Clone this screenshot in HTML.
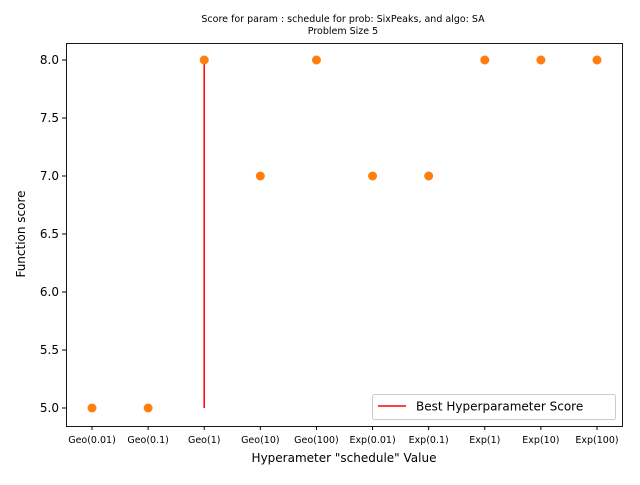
<!DOCTYPE html>
<html><head><meta charset="utf-8"><style>
body{margin:0;background:#fff;font-family:"Liberation Sans","DejaVu Sans",sans-serif;}
</style></head><body>
<svg id="c" width="640" height="480" xmlns="http://www.w3.org/2000/svg" style="font-family:'DejaVu Sans','Liberation Sans',sans-serif">
<text x="343" y="22" font-size="9.5" text-anchor="middle">Score for param : schedule for prob: SixPeaks, and algo: SA</text>
<text x="343" y="34" font-size="9.5" text-anchor="middle">Problem Size 5</text>
<g id="ax"></g>
<text x="344" y="462" font-size="12" text-anchor="middle">Hyperameter "schedule" Value</text>
<text transform="translate(25,234) rotate(-90)" font-size="12" text-anchor="middle">Function score</text>
<g>
<rect x="372.5" y="394.5" width="243" height="25" rx="2" fill="#fff" stroke="#ccc"/>
<line x1="378" y1="406" x2="406" y2="406" stroke="red" stroke-width="1.5"/>
<text x="416" y="410.5" font-size="12">Best Hyperparameter Score</text>
</g>
</svg>
<script>
const categories=["Geo(0.01)","Geo(0.1)","Geo(1)","Geo(10)","Geo(100)","Exp(0.01)","Exp(0.1)","Exp(1)","Exp(10)","Exp(100)"];
const scores=[5,5,8,7,8,7,7,8,8,8];
const yTicks=[5.0,5.5,6.0,6.5,7.0,7.5,8.0];
const bestIndex=2;
const L=66,R=622,T=43,B=426;
const xs=i=>92+i*(597-92)/(categories.length-1);
const ys=v=>408-(v-5)*116;
const g=document.getElementById('ax');
const NS="http://www.w3.org/2000/svg";
function mk(t,a){const e=document.createElementNS(NS,t);for(const k in a)e.setAttribute(k,a[k]);g.appendChild(e);return e;}
yTicks.forEach(v=>{
 mk('line',{x1:L-4,x2:L,y1:ys(v),y2:ys(v),stroke:'#000'});
 const t=mk('text',{x:L-7,y:ys(v)+4,'font-size':12,'text-anchor':'end'});t.textContent=v.toFixed(1);
 
 
});
categories.forEach((c,i)=>{
 mk('line',{x1:xs(i),x2:xs(i),y1:B,y2:B+4,stroke:'#000'});
 const t=mk('text',{x:xs(i),y:B+17,'font-size':9.5,'text-anchor':'middle'});t.textContent=c;
 
 
});
const bl=mk('line',{x1:xs(bestIndex),x2:xs(bestIndex),y1:ys(Math.min(...scores)),y2:ys(Math.max(...scores)),stroke:'red','stroke-width':1.5});


scores.forEach((v,i)=>{
 const p=mk('circle',{cx:xs(i),cy:ys(v),r:4.5,fill:'#ff7f0e'});
 
 
});
const f=mk('rect',{x:L+.5,y:T+.5,width:R-L,height:B-T,fill:'none',stroke:'#000','stroke-width':0.9});


</script>
</body></html>
